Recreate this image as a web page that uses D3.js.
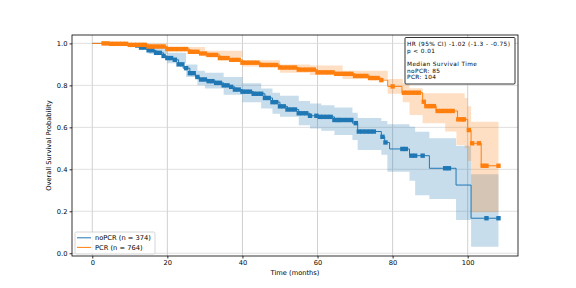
<!DOCTYPE html>
<html>
<head>
<meta charset="utf-8">
<script src="https://cdn.jsdelivr.net/npm/d3@7"></script>
<style>
  html, body { margin: 0; padding: 0; background: #fff; }
  svg { display: block; font-family: 'DejaVu Sans', sans-serif; }
</style>
</head>
<body>
<div id="chart"></div>
<script>
// Kaplan-Meier steps
const noPcrTimes = [0, 9, 11, 13, 15, 17, 19, 20, 21.5, 23, 24.2, 26, 27.5, 28.6, 31, 33, 35, 36.6, 38, 40, 43, 46, 48, 50, 52, 55, 58, 60, 64.5, 69.3, 70.7, 77, 77.9, 79.2, 84.5, 89.8, 96.9, 100.9, 108.2];
const noPcrSurv  = [1.0, 0.997, 0.99, 0.98, 0.967, 0.955, 0.94, 0.93, 0.922, 0.9, 0.882, 0.858, 0.84, 0.828, 0.82, 0.812, 0.8, 0.793, 0.78, 0.77, 0.76, 0.74, 0.72, 0.7, 0.685, 0.667, 0.655, 0.65, 0.635, 0.62, 0.58, 0.555, 0.528, 0.497, 0.465, 0.405, 0.325, 0.167, 0.167];
const noPcrCiTimes = [0, 10, 15, 20, 25, 28, 30, 35, 40, 45, 48, 50, 55, 58, 61, 64.5, 69.3, 70.7, 77, 78.6, 84.5, 86, 89.8, 96.9, 100.9, 108.2];
const noPcrLower   = [1.0, 0.99, 0.95, 0.905, 0.84, 0.8, 0.785, 0.755, 0.72, 0.69, 0.665, 0.65, 0.61, 0.595, 0.584, 0.563, 0.54, 0.492, 0.47, 0.389, 0.346, 0.277, 0.259, 0.159, 0.031, 0.031];
const noPcrUpper   = [1.0, 1.0, 0.982, 0.955, 0.9, 0.87, 0.86, 0.84, 0.81, 0.785, 0.765, 0.75, 0.725, 0.714, 0.705, 0.695, 0.67, 0.645, 0.63, 0.615, 0.603, 0.579, 0.548, 0.512, 0.376, 0.376];
const noPcrCensor = [12, 13, 14, 15, 16, 17, 18, 19, 20, 21, 22, 23, 24, 25, 26, 27, 28, 29, 30, 31, 32, 33, 34, 35, 36, 37, 38, 39, 40, 41, 42, 43, 44, 45, 46, 47, 48, 49, 50, 51, 52, 53, 54, 55, 56, 57, 58, 59.7, 60.6, 61.5, 62.5, 63.5, 64.5, 65.4, 66, 67, 68, 69, 70.2, 71, 72, 73, 74, 75, 77.3, 78.1, 82.6, 83.5, 85, 86, 88, 94, 95, 105, 108.2];

const pcrTimes = [0, 5, 10, 15, 20, 26, 28.6, 31, 34, 36.6, 40, 45, 50, 55, 60, 65, 70, 74, 77, 78.7, 82.5, 88, 88.6, 91.6, 97.3, 100, 100.9, 103.6, 108.2];
const pcrSurv  = [1.0, 0.998, 0.993, 0.985, 0.973, 0.96, 0.952, 0.945, 0.93, 0.922, 0.908, 0.897, 0.885, 0.875, 0.862, 0.855, 0.845, 0.835, 0.825, 0.795, 0.765, 0.722, 0.701, 0.678, 0.638, 0.587, 0.524, 0.417, 0.417];
const pcrCiTimes = [0, 10, 20, 30, 40, 50, 58, 66.7, 78.7, 82.7, 84.5, 88, 94, 97, 99.2, 100, 100.9, 108.2];
const pcrLower   = [1.0, 0.985, 0.962, 0.935, 0.89, 0.86, 0.85, 0.83, 0.76, 0.72, 0.659, 0.619, 0.58, 0.516, 0.5, 0.44, 0.195, 0.195];
const pcrUpper   = [1.0, 1.0, 0.983, 0.965, 0.92, 0.9, 0.895, 0.87, 0.83, 0.81, 0.786, 0.762, 0.762, 0.762, 0.74, 0.7, 0.627, 0.627];
const pcrCensor = [3, 4, 5, 6, 7, 8, 9, 10, 11, 12, 13, 14, 15, 16, 17, 18, 19, 20, 21, 22, 23, 24, 25, 26, 27, 28, 29, 30, 31, 32, 33, 34, 35, 36, 37, 38, 39, 40, 41, 42, 43, 44, 45, 46, 47, 48, 49, 50, 51, 52, 53, 54, 55, 56, 57, 58, 59, 60, 61, 62, 63, 64, 65, 66, 67, 68, 69, 70, 71, 72, 73, 74, 75, 76, 77, 80, 83, 84, 85, 86, 87, 88.3, 89, 90, 91, 92, 93, 94, 95, 96, 97.5, 98.5, 99, 100.3, 101.2, 103, 104, 105, 108.2];

const groups = [
  { name: 'noPCR (n = 374)', color: '#1f77b4', t: noPcrTimes, s: noPcrSurv, ciT: noPcrCiTimes, lo: noPcrLower, hi: noPcrUpper, cens: noPcrCensor },
  { name: 'PCR (n = 764)', color: '#ff7f0e', t: pcrTimes, s: pcrSurv, ciT: pcrCiTimes, lo: pcrLower, hi: pcrUpper, cens: pcrCensor }
];

const xTicks = [0, 20, 40, 60, 80, 100];
const yTicks = [0.0, 0.2, 0.4, 0.6, 0.8, 1.0];
const noteLines = ['HR (95% CI) -1.02 (-1.3 - -0.75)', 'p < 0.01', '', 'Median Survival Time', 'noPCR: 85', 'PCR: 104'];

const W = 576, H = 288;
const plot = { left: 72, right: 518, top: 35, bottom: 256 };
const FS = 6.7;

const svg = d3.select('#chart').append('svg').attr('width', W).attr('height', H);

const x = d3.scaleLinear().domain([-5.4, 113.4]).range([plot.left, plot.right]);
const y = d3.scaleLinear().domain([-0.013, 1.04]).range([plot.bottom, plot.top]);

// grid
const grid = svg.append('g');
grid.selectAll('.gx').data(xTicks).enter().append('line')
  .attr('x1', d => x(d)).attr('x2', d => x(d))
  .attr('y1', plot.top).attr('y2', plot.bottom)
  .attr('stroke', '#c4c4c4').attr('stroke-width', 0.8);
grid.selectAll('.gy').data(yTicks).enter().append('line')
  .attr('x1', plot.left).attr('x2', plot.right)
  .attr('y1', d => y(d)).attr('y2', d => y(d))
  .attr('stroke', '#d8d8d8').attr('stroke-width', 0.8);

function stepValue(ts, vs, t) {
  let v = vs[0];
  for (let i = 0; i < ts.length; i++) if (ts[i] <= t) v = vs[i];
  return v;
}

const area = d3.area().curve(d3.curveStepAfter)
  .x(d => x(d.t)).y0(d => y(d.lo)).y1(d => y(d.hi));
const line = d3.line().curve(d3.curveStepAfter)
  .x(d => x(d.t)).y(d => y(d.s));

groups.forEach(g => {
  const ci = g.ciT.map((t, i) => ({ t, lo: g.lo[i], hi: g.hi[i] }));
  svg.append('path').datum(ci).attr('d', area)
    .attr('fill', g.color).attr('fill-opacity', 0.25).attr('stroke', 'none');
});

groups.forEach(g => {
  const pts = g.t.map((t, i) => ({ t, s: g.s[i] }));
  svg.append('path').datum(pts).attr('d', line)
    .attr('fill', 'none').attr('stroke', g.color).attr('stroke-width', 1);
  const ms = 4.4;
  svg.append('g').selectAll('rect').data(g.cens).enter().append('rect')
    .attr('x', d => x(d) - ms / 2)
    .attr('y', d => y(stepValue(g.t, g.s, d)) - ms / 2)
    .attr('width', ms).attr('height', ms)
    .attr('fill', g.color);
});

// axes
const xAxis = svg.append('g').attr('transform', `translate(0,${plot.bottom})`)
  .call(d3.axisBottom(x).tickValues(xTicks).tickSize(2.5).tickPadding(2));
const yAxis = svg.append('g').attr('transform', `translate(${plot.left},0)`)
  .call(d3.axisLeft(y).tickValues(yTicks).tickFormat(d3.format('.1f')).tickSize(2.5).tickPadding(2));
[xAxis, yAxis].forEach(a => {
  a.select('.domain').remove();
  a.selectAll('text').attr('font-size', FS).attr('fill', '#000').attr('font-family', 'DejaVu Sans');
  a.selectAll('line').attr('stroke', '#000').attr('stroke-width', 0.8);
});

svg.append('rect')
  .attr('x', plot.left).attr('y', plot.top)
  .attr('width', plot.right - plot.left).attr('height', plot.bottom - plot.top)
  .attr('fill', 'none').attr('stroke', '#000').attr('stroke-width', 0.8);

svg.append('text').attr('x', (plot.left + plot.right) / 2).attr('y', 275)
  .attr('text-anchor', 'middle').attr('font-size', FS).text('Time (months)');
svg.append('text')
  .attr('transform', `translate(51,${(plot.top + plot.bottom) / 2}) rotate(-90)`)
  .attr('text-anchor', 'middle').attr('font-size', FS).text('Overall Survival Probability');

// legend
const lg = svg.append('g');
lg.append('rect').attr('x', 75).attr('y', 232).attr('width', 80).attr('height', 22)
  .attr('rx', 1.5).attr('fill', '#fff').attr('fill-opacity', 0.8)
  .attr('stroke', '#cccccc').attr('stroke-width', 0.8);
groups.forEach((g, i) => {
  const yy = 237.8 + i * 9.6;
  lg.append('line').attr('x1', 77).attr('x2', 91).attr('y1', yy).attr('y2', yy)
    .attr('stroke', g.color).attr('stroke-width', 1);
  lg.append('text').attr('x', 95).attr('y', yy + 2.4).attr('font-size', FS).text(g.name);
});

// annotation box
const nb = svg.append('g');
nb.append('rect').attr('x', 405).attr('y', 37.5).attr('width', 110).attr('height', 46.5)
  .attr('rx', 1).attr('fill', '#fff').attr('stroke', '#000').attr('stroke-width', 0.8);
noteLines.forEach((t, i) => {
  nb.append('text').attr('x', 407).attr('y', 44.2 + i * 6.6 + 2.1)
    .attr('font-size', 5.8).attr('letter-spacing', 0.4).text(t);
});
</script>
</body>
</html>
